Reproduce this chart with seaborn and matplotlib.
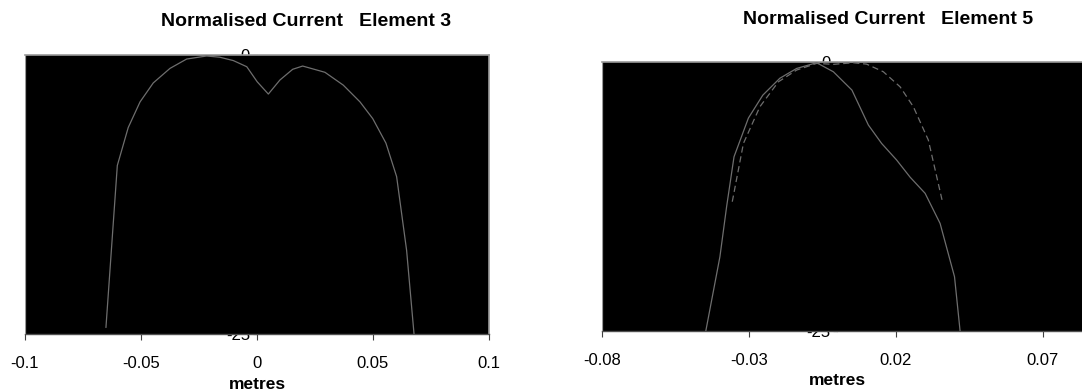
import matplotlib
matplotlib.use("Agg")
import matplotlib.pyplot as plt
import pandas as pd
import seaborn as sns

# element 3, normalised current (dB) vs position (m)
x_el3 = [-0.0651, -0.0602, -0.0555, -0.0504, -0.0447, -0.0375, -0.0303, -0.0217,
         -0.016, -0.0102, -0.0044, 0.0001, 0.0049, 0.0099, 0.0154, 0.0197,
         0.0293, 0.0372, 0.0444, 0.0499, 0.0556, 0.0602, 0.0645, 0.0677]
y_el3 = [-24.4, -9.9, -6.5, -4.2, -2.5, -1.2, -0.36, -0.09,
         -0.2, -0.5, -1.05, -2.4, -3.5, -2.24, -1.28, -0.99,
         -1.55, -2.7, -4.2, -5.7, -7.9, -10.9, -17.5, -25.0]

# element 5, solid trace
x_el5a = [-0.0447, -0.0399, -0.0376, -0.0351, -0.0302, -0.0253, -0.0195, -0.0138,
          -0.007, -0.0013, 0.005, 0.0106, 0.0151, 0.0202, 0.0248, 0.0299,
          0.035, 0.0399, 0.0418]
y_el5a = [-25.0, -18.1, -13.4, -8.8, -5.2, -3.07, -1.5, -0.59,
          -0.06, -0.9, -2.6, -5.85, -7.56, -9.1, -10.7, -12.2,
          -15.0, -19.95, -25.0]

# element 5, dashed trace
x_el5b = [-0.0357, -0.0319, -0.0263, -0.02, -0.0138, -0.007, -0.0013, 0.0055,
          0.01, 0.0157, 0.0214, 0.0259, 0.031, 0.0359]
y_el5b = [-12.98, -7.56, -4.15, -1.83, -0.74, -0.12, -0.21, -0.06,
          -0.19, -0.9, -2.3, -4.15, -7.25, -13.1]

x_ticks_el3 = [-0.1, -0.05, 0, 0.05, 0.1]
x_labels_el3 = ["-0.1", "-0.05", "0", "0.05", "0.1"]
# the chart is cut at the right edge, only ticks up to 0.07 show
x_ticks_el5 = [-0.08, -0.03, 0.02, 0.07]
x_labels_el5 = ["-0.08", "-0.03", "0.02", "0.07"]
y_ticks = [-25, 0]
y_labels = ["-25", "0"]

plt.rcParams["font.family"] = ["Liberation Sans", "DejaVu Sans"]

fig = plt.figure(figsize=(10.82, 3.92), dpi=100)
ax3 = fig.add_axes([0.0231, 0.148, 0.4288, 0.7117])
ax5 = fig.add_axes([0.5564, 0.1556, 0.5434, 0.686])

line_color = "#6e6e6e"

df3 = pd.DataFrame({"x": x_el3, "y": y_el3})
sns.lineplot(data=df3, x="x", y="y", ax=ax3, color=line_color, lw=0.9,
             sort=False, estimator=None, zorder=4)

df5a = pd.DataFrame({"x": x_el5a, "y": y_el5a})
df5b = pd.DataFrame({"x": x_el5b, "y": y_el5b})
sns.lineplot(data=df5a, x="x", y="y", ax=ax5, color=line_color, lw=0.9,
             sort=False, estimator=None, zorder=4)
sns.lineplot(data=df5b, x="x", y="y", ax=ax5, color=line_color, lw=0.9,
             sort=False, estimator=None, linestyle=(0, (5, 3)), zorder=4)

for ax, xlim, ticks, labels in [
    (ax3, (-0.1, 0.1), x_ticks_el3, x_labels_el3),
    (ax5, (-0.08, 0.12), x_ticks_el5, x_labels_el5),
]:
    ax.set_facecolor("black")
    ax.set_xlim(*xlim)
    ax.set_ylim(-25, 0)
    ax.set_xticks(ticks)
    ax.set_xticklabels(labels)
    ax.set_yticks(y_ticks)
    ax.set_yticklabels(y_labels)
    ax.tick_params(axis="x", length=4, width=0.8, color="#404040",
                   labelsize=12, pad=12, direction="out")
    ax.tick_params(axis="y", length=3, color="black", labelsize=12,
                   labelcolor="black", pad=2)
    for side in ["top", "right"]:
        ax.spines[side].set_color("#9a9a9a")
        ax.spines[side].set_linewidth(1.2)
    ax.spines["bottom"].set_color("#505050")
    ax.spines["bottom"].set_linewidth(1.0)
    # value axis crosses at x = 0, drawn in black on the black plot area
    ax.spines["left"].set_position(("data", 0))
    ax.spines["left"].set_color("black")
    ax.set_ylabel("")
    ax.set_xlabel("metres", fontsize=12.5, fontweight="bold")
    ax.xaxis.label.set_va("center")

# left-hand border of the plot area
for ax in (ax3, ax5):
    ax.axvline(ax.get_xlim()[0], color="#9a9a9a", lw=1.6, zorder=5)

ax3.xaxis.set_label_coords(0.5, -51 / 279)
ax5.xaxis.set_label_coords(235 / 588, -50 / 269)

fig.text(306 / 1082, 1 - 22 / 392, "Normalised Current   Element 3",
         ha="center", va="center", fontsize=14, fontweight="bold")
fig.text(888 / 1082, 1 - 20 / 392, "Normalised Current   Element 5",
         ha="center", va="center", fontsize=14, fontweight="bold")

fig.savefig("out.png", dpi=100)
